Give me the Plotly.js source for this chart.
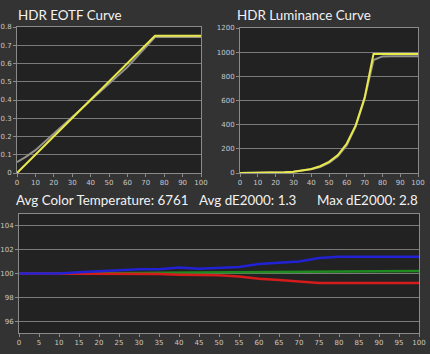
<!DOCTYPE html>
<html>
<head>
<meta charset="utf-8">
<script src="https://cdn.plot.ly/plotly-3.0.1.min.js"></script>
<style>
html,body{margin:0;padding:0;background:#333333;}
#chart{width:430px;height:354px;}
</style>
</head>
<body>
<div id="chart"></div>
<script>
// Shared stimulus levels (%)
const levels = [0,5,10,15,20,25,30,35,40,45,50,55,60,65,70,75,80,85,90,95,100];

// HDR EOTF curve
const eotfTarget   = [0,0.05,0.10,0.15,0.20,0.25,0.30,0.35,0.40,0.45,0.50,0.55,0.60,0.65,0.70,0.752,0.752,0.752,0.752,0.752,0.752];
const eotfMeasured = [0.06,0.09,0.125,0.17,0.215,0.26,0.305,0.35,0.40,0.445,0.49,0.535,0.58,0.635,0.69,0.745,0.745,0.745,0.745,0.745,0.745];

// HDR luminance curve (cd/m2)
const lumTarget   = [0,0.1,0.3,1.0,2.4,5.2,10,19,33,56,92,149,244,394,622,985,985,985,985,985,985];
const lumMeasured = [0,0.1,0.5,1.3,2.8,5.5,10,18,30,50,84,138,230,385,612,935,965,967,967,967,967];

// RGB balance (%)
const redBal   = [100,100,100,100,100,99.95,99.95,99.95,99.9,99.9,99.85,99.75,99.55,99.45,99.35,99.2,99.2,99.2,99.2,99.2,99.2];
const greenBal = [100,100,100,100.02,100.03,100.05,100.05,100.07,100.08,100.1,100.1,100.12,100.15,100.17,100.18,100.2,100.2,100.2,100.2,100.2,100.2];
const blueBal  = [100,100,100,100.1,100.2,100.3,100.35,100.35,100.5,100.4,100.45,100.55,100.8,100.9,101.0,101.3,101.4,101.4,101.4,101.4,101.4];

// Tick labels
const topXTicks = [0,10,20,30,40,50,60,70,80,90,100];
const eotfYTicks = [0,0.1,0.2,0.3,0.4,0.5,0.6,0.7,0.8];
const eotfYText = ['0','0.1','0.2','0.3','0.4','0.5','0.6','0.7','0.8'];
const lumYTicks = [0,200,400,600,800,1000,1200];
const balXTicks = [0,5,10,15,20,25,30,35,40,45,50,55,60,65,70,75,80,85,90,95,100];
const balYTicks = [96,98,100,102,104];

// Titles
const titleEotf = 'HDR EOTF Curve';
const titleLum = 'HDR Luminance Curve';
const statTemp = 'Avg Color Temperature: 6761';
const statAvg = 'Avg dE2000: 1.3';
const statMax = 'Max dE2000: 2.8';

const YELLOW = '#e9e94c';
const GRAY = '#92928a';

const traces = [
  {x: levels, y: eotfMeasured, xaxis:'x', yaxis:'y', mode:'lines', line:{color:GRAY, width:2}, hoverinfo:'skip'},
  {x: levels, y: eotfTarget, xaxis:'x', yaxis:'y', mode:'lines', line:{color:YELLOW, width:2}, hoverinfo:'skip'},
  {x: levels, y: lumMeasured, xaxis:'x2', yaxis:'y2', mode:'lines', line:{color:GRAY, width:2}, hoverinfo:'skip'},
  {x: levels, y: lumTarget, xaxis:'x2', yaxis:'y2', mode:'lines', line:{color:YELLOW, width:2}, hoverinfo:'skip'},
  {x: levels, y: greenBal, xaxis:'x3', yaxis:'y3', mode:'lines', line:{color:'#1f8a1f', width:2.5}, hoverinfo:'skip'},
  {x: levels, y: redBal, xaxis:'x3', yaxis:'y3', mode:'lines', line:{color:'#d41c1c', width:2.5}, hoverinfo:'skip'},
  {x: levels, y: blueBal, xaxis:'x3', yaxis:'y3', mode:'lines', line:{color:'#2222d4', width:2.5}, hoverinfo:'skip'}
];

const tickFont = {family:'DejaVu Sans, sans-serif', size:7, color:'#c8c8c8'};
function axisBase(extra){
  return Object.assign({
    showgrid:true, gridcolor:'#7a7a7a', gridwidth:1,
    showline:true, linecolor:'#8a8a8a', linewidth:1, mirror:true,
    ticks:'outside', ticklen:3, tickcolor:'#8a8a8a', tickwidth:1,
    tickfont:tickFont, zeroline:false, fixedrange:true
  }, extra);
}

const titleFont = {family:'Lato, sans-serif', size:13.4, color:'#f2f2f2'};
const layout = {
  width:430, height:354,
  margin:{l:0,r:0,t:0,b:0},
  paper_bgcolor:'#333333',
  plot_bgcolor:'#222222',
  showlegend:false,
  xaxis: axisBase({domain:[17/430, 201/430], range:[0,100], tickvals:topXTicks, anchor:'y', showgrid:false}),
  yaxis: axisBase({domain:[1-173/354, 1-27/354], range:[0,0.8], tickvals:eotfYTicks, ticktext:eotfYText, anchor:'x'}),
  xaxis2: axisBase({domain:[240/430, 418/430], range:[0,100], tickvals:topXTicks, anchor:'y2', showgrid:false}),
  yaxis2: axisBase({domain:[1-173/354, 1-28/354], range:[0,1200], tickvals:lumYTicks, anchor:'x2'}),
  xaxis3: axisBase({domain:[19/430, 419/430], range:[0,100], tickvals:balXTicks, anchor:'y3', showgrid:false}),
  yaxis3: axisBase({domain:[1-333/354, 1-214/354], range:[95,105], tickvals:balYTicks, anchor:'x3'}),
  annotations:[
    {text:titleEotf, xref:'paper', yref:'paper', x:16/430, y:1-15/354, xanchor:'left', yanchor:'middle', showarrow:false, font:titleFont},
    {text:titleLum, xref:'paper', yref:'paper', x:235/430, y:1-15/354, xanchor:'left', yanchor:'middle', showarrow:false, font:titleFont},
    {text:statTemp, xref:'paper', yref:'paper', x:14/430, y:1-200/354, xanchor:'left', yanchor:'middle', showarrow:false, font:titleFont},
    {text:statAvg, xref:'paper', yref:'paper', x:197/430, y:1-200/354, xanchor:'left', yanchor:'middle', showarrow:false, font:titleFont},
    {text:statMax, xref:'paper', yref:'paper', x:420/430, y:1-200/354, xanchor:'right', yanchor:'middle', showarrow:false, font:titleFont}
  ]
};

Plotly.newPlot('chart', traces, layout, {displayModeBar:false, staticPlot:true});
</script>
</body>
</html>
